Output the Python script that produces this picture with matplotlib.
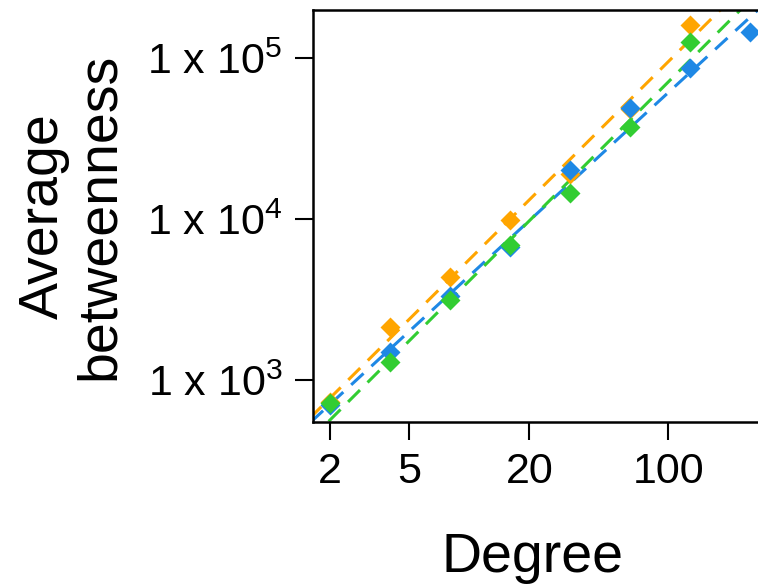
import matplotlib.pyplot as plt
import numpy as np

plt.rcParams['font.family'] = ['Liberation Sans', 'DejaVu Sans']
plt.rcParams['mathtext.fontset'] = 'custom'
plt.rcParams['mathtext.rm'] = 'Liberation Sans'

# degree bins (x) and average betweenness per series
degree = [2, 4, 8, 16, 32, 64, 128, 256]
orange_y = [730, 2130, 4370, 9860, 19000, 48000, 160000]
blue_y = [700, 1490, 3300, 6700, 20100, 48900, 86700, 145000]
green_y = [720, 1290, 3140, 6900, 14500, 37200, 125600]

# power-law fits, log10(y) = a + b*log10(x)
orange_fit = (2.518, 1.23)
blue_fit = (2.506, 1.14)
green_fit = (2.380, 1.236)

ytick_exp = [3, 4, 5]
xticks = [2, 5, 20, 100]

fig = plt.figure(figsize=(7.58, 5.86), dpi=100)
ax = fig.add_axes([0.413, 0.280, 0.627, 0.703])

xx = np.logspace(0, 3, 200)
series = [
    (orange_y, orange_fit, "orange"),
    (blue_y, blue_fit, "#1E88E5"),
    (green_y, green_fit, "#32CD32"),
]
for ys, (a, b), col in series:
    ax.plot(xx, 10 ** (a + b * np.log10(xx)), color=col, lw=2.2,
            dashes=(5.5, 3.5))
for ys, fit, col in series:
    ax.plot(degree[:len(ys)], ys, 'D', color=col, ms=10, mec='none')

ax.set_xscale('log')
ax.set_yscale('log')
ax.set_xlim(1.64, 400)
ax.set_ylim(548, 198700)

ax.set_xticks(xticks)
ax.set_xticklabels([str(t) for t in xticks])
ax.set_yticks([10 ** e for e in ytick_exp])
ax.set_yticklabels([f'1 x 10$^{{{e}}}$' for e in ytick_exp])
ax.minorticks_off()
ax.tick_params(length=13, width=1.5, labelsize=31, pad=9)
for s in ax.spines.values():
    s.set_linewidth(1.8)

fig.text(0.703, 0.024, 'Degree', fontsize=40, ha='center', va='baseline')
fig.text(0.095, 0.631, 'Average\nbetweenness', fontsize=40, rotation=90,
         ha='center', va='center', linespacing=1.1)

fig.savefig('out.png', dpi=100)
